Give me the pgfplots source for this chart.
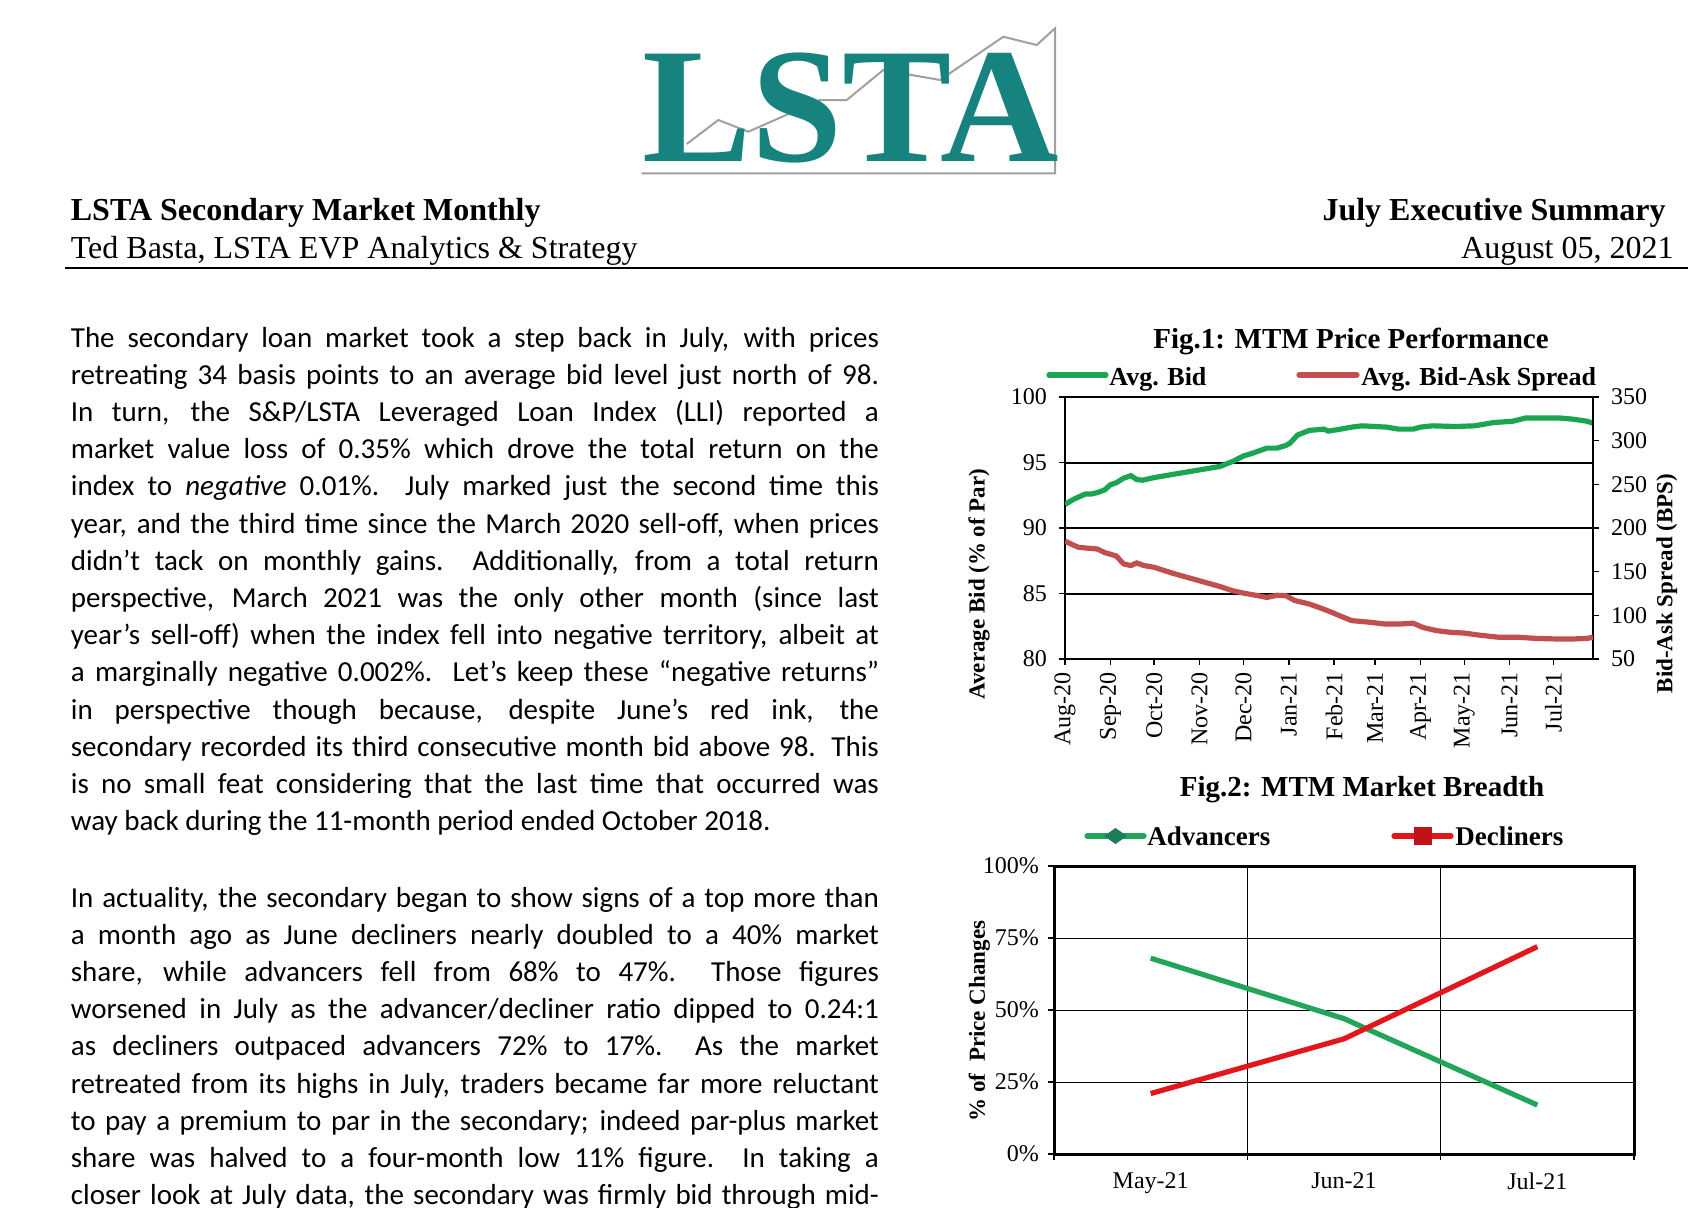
\documentclass[border=0pt]{standalone}
\usepackage{pgfplots}
\pgfplotsset{compat=1.18}
\usepackage{fontspec}
\setmainfont{Liberation Serif}
\newfontfamily\calibri{Carlito}
\definecolor{teal1}{HTML}{17837F}
\definecolor{bidgreen}{HTML}{1BA551}
\definecolor{spreadred}{HTML}{C0504D}
\definecolor{advgreen}{HTML}{22A55A}
\definecolor{decred}{HTML}{E3161B}
\definecolor{logogray}{HTML}{A0A0A0}
\definecolor{diamondgreen}{HTML}{1B7D5A}
\newcommand\jline[2]{\node[anchor=base west,inner sep=0pt] at (70.5,#1) {\calibri\fontsize{14.5}{18}\selectfont\makebox[404pt][s]{#2}};}
\newcommand\lastline[2]{\node[anchor=base west,inner sep=0pt] at (70.5,#1) {\calibri\fontsize{14.5}{18}\selectfont #2};}
\begin{document}
\begin{tikzpicture}
\useasboundingbox (0,0) rectangle (850pt,-603.5pt);
\clip (0,0) rectangle (850pt,-603.5pt);
\begin{scope}[x=0.5pt,y=-0.5pt]
% logo
\draw[logogray, line width=1pt] (686.7,144) -- (718.3,120) -- (748.3,131.7) -- (820,100) -- (846.7,100) -- (883.3,70) -- (940,80) -- (1003.3,36.7) -- (1036.7,45) -- (1055,28.3) -- (1055,173.3) -- (641.7,173.3);
\node[anchor=base west, inner sep=0pt, text=teal1, xscale=1.0] at (642,161) {\bfseries\fontsize{82}{82}\selectfont LSTA};
% header
\node[anchor=base west, inner sep=0pt] at (70.5,220) {\bfseries\fontsize{16}{16}\selectfont LSTA Secondary Market Monthly};
\node[anchor=base west, inner sep=0pt] at (70.5,258) {\fontsize{16}{16}\selectfont Ted Basta, LSTA EVP Analytics \& Strategy};
\node[anchor=base east, inner sep=0pt] at (1666,220) {\bfseries\fontsize{16}{16}\selectfont July Executive Summary};
\node[anchor=base east, inner sep=0pt] at (1674,258) {\fontsize{16}{16}\selectfont August 05, 2021};
\draw[line width=0.6pt] (65,268) -- (1688,268);
% body paragraph 1
\jline{347}{The secondary loan market took a step back in July, with prices}
\jline{384.2}{retreating 34 basis points to an average bid level just north of 98.}
\jline{421.4}{In turn, the S\&P/LSTA Leveraged Loan Index (LLI) reported a}
\jline{458.6}{market value loss of 0.35\% which drove the total return on the}
\jline{495.8}{index to \textit{negative} 0.01\%.\ \ July marked just the second time this}
\jline{533}{year, and the third time since the March 2020 sell-off, when prices}
\jline{570.2}{didn’t tack on monthly gains.\ \ Additionally, from a total return}
\jline{607.4}{perspective, March 2021 was the only other month (since last}
\jline{644.6}{year’s sell-off) when the index fell into negative territory, albeit at}
\jline{681.8}{a marginally negative 0.002\%.\ \ Let’s keep these “negative returns”}
\jline{719}{in perspective though because, despite June’s red ink, the}
\jline{756.2}{secondary recorded its third consecutive month bid above 98. This}
\jline{793.4}{is no small feat considering that the last time that occurred was}
\lastline{830.6}{way back during the 11-month period ended October 2018.}
% body paragraph 2
\jline{907}{In actuality, the secondary began to show signs of a top more than}
\jline{944.2}{a month ago as June decliners nearly doubled to a 40\% market}
\jline{981.4}{share, while advancers fell from 68\% to 47\%.\ \ Those figures}
\jline{1018.6}{worsened in July as the advancer/decliner ratio dipped to 0.24:1}
\jline{1055.8}{as decliners outpaced advancers 72\% to 17\%.\ \ As the market}
\jline{1093}{retreated from its highs in July, traders became far more reluctant}
\jline{1130.2}{to pay a premium to par in the secondary; indeed par-plus market}
\jline{1167.4}{share was halved to a four-month low 11\% figure.\ \ In taking a}
\jline{1204.6}{closer look at July data, the secondary was firmly bid through mid-}
% fig 1 title and legend
\node[anchor=base, inner sep=0pt] at (1351,348) {\bfseries\fontsize{14.5}{14.5}\selectfont Fig.1: MTM Price Performance};
\draw[bidgreen, line width=2.6pt, line cap=round] (1049,375) -- (1106,375);
\node[anchor=base west, inner sep=0pt] at (1109,385) {\bfseries\fontsize{13}{13}\selectfont Avg. Bid};
\draw[spreadred, line width=2.6pt, line cap=round] (1299,375) -- (1357,375);
\node[anchor=base west, inner sep=0pt] at (1361,385) {\bfseries\fontsize{13}{13}\selectfont Avg. Bid-Ask Spread};
% fig 2 title and legend
\node[anchor=base, inner sep=0pt] at (1362,796) {\bfseries\fontsize{14.5}{14.5}\selectfont Fig.2: MTM Market Breadth};
\draw[advgreen, line width=2.6pt, line cap=round] (1087,836) -- (1144,836);
\fill[diamondgreen] (1104,836) -- (1115.5,828) -- (1127,836) -- (1115.5,844) -- cycle;
\node[anchor=base west, inner sep=0pt] at (1147,845) {\bfseries\fontsize{13.5}{13.5}\selectfont Advancers};
\draw[decred, line width=2.6pt, line cap=round] (1394,836) -- (1451,836);
\fill[decred!85!black] (1414,827) rectangle (1432,845);
\node[anchor=base west, inner sep=0pt] at (1455,845) {\bfseries\fontsize{13.5}{13.5}\selectfont Decliners};
\end{scope}
% ---------------- Fig 1 ----------------
\begin{axis}[
  at={(532.5pt,-329.5pt)}, anchor=south west,
  scale only axis, width=264pt, height=131pt,
  xmin=0, xmax=361, ymin=80, ymax=100,
  ytick={80,85,90,95,100},
  ymajorgrids, grid style={black, line width=1pt},
  xtick={0,31,61,92,122,153,184,212,243,273,304,334},
  xticklabels={Aug-20,Sep-20,Oct-20,Nov-20,Dec-20,Jan-21,Feb-21,Mar-21,Apr-21,May-21,Jun-21,Jul-21},
  xticklabel style={rotate=90, anchor=east, font=\fontsize{12}{12}\selectfont},
  tick pos=left, tick align=outside, major tick length=3pt,
  tick style={black, line width=0.8pt},
  axis line style={line width=1pt},
  /pgf/number format/assume math mode=true,
  yticklabel style={font=\fontsize{12}{12}\selectfont, xshift=-2.5pt},
  ylabel={Average Bid (\% of Par)},
  ylabel style={font=\bfseries\fontsize{11.5}{11.5}\selectfont, at={(axis description cs:-0.163,0.286)}, anchor=center},
]
\addplot[bidgreen, line width=2.6pt] table {
0 91.8
3 92.0
6 92.2
10 92.4
14 92.6
18 92.6
22 92.7
27 92.9
31 93.3
35 93.45
40 93.8
45 94.0
49 93.7
53 93.65
61 93.85
74 94.1
90 94.4
106 94.7
115 95.1
122 95.5
128 95.7
138 96.1
145 96.1
151 96.3
154 96.5
159 97.1
167 97.45
177 97.55
180 97.4
186 97.5
196 97.7
203 97.8
212 97.75
220 97.7
228 97.55
238 97.55
243 97.7
251 97.8
267 97.75
280 97.8
293 98.05
306 98.15
315 98.4
325 98.4
338 98.4
348 98.3
357 98.15
361 98.0
};
\end{axis}
\begin{axis}[
  at={(532.5pt,-329.5pt)}, anchor=south west,
  scale only axis, width=264pt, height=131pt,
  xmin=0, xmax=361, ymin=50, ymax=350,
  axis y line*=right, axis x line=none,
  ytick={50,100,150,200,250,300,350},
  tick align=outside, major tick length=3pt,
  tick style={black, line width=0.8pt},
  axis line style={line width=1pt},
  /pgf/number format/assume math mode=true,
  yticklabel style={font=\fontsize{12}{12}\selectfont, xshift=2.5pt},
  ylabel={Bid-Ask Spread (BPS)},
  ylabel style={font=\bfseries\fontsize{11.5}{11.5}\selectfont, at={(axis description cs:1.14,0.288)}, anchor=center},
]
\addplot[spreadred, line width=2.6pt] table {
0 185
5 181
9 178
15 177
22 176
27 172
31 170
35 168
40 159
45 157
49 160
54 157
61 155
74 148
90 140.5
106 133
115 128
122 125.5
132 122.5
138 120.5
145 123
151 122.5
157 117
167 113
177 107
183 103
190 98
196 94
209 92
219 90
228 90
238 91
245 86
254 82.5
264 80.5
273 79.7
283 77.4
296 75
309 75
322 73.6
335 73
348 73
357 73.6
361 75
};
\end{axis}
% ---------------- Fig 2 ----------------
\begin{axis}[
  at={(527pt,-577pt)}, anchor=south west,
  scale only axis, width=290pt, height=144pt,
  xmin=-0.5, xmax=2.5, ymin=0, ymax=100,
  xtick={-0.5,0.5,1.5,2.5}, xticklabels={},
  extra x ticks={0,1,2}, extra x tick labels={May-21,Jun-21,Jul-21},
  extra x tick style={major tick length=0pt, grid=none},
  ytick={0,25,50,75,100}, yticklabels={0\%,25\%,50\%,75\%,100\%},
  xmajorgrids, ymajorgrids, grid style={black, line width=0.5pt},
  tick pos=left, tick align=outside, major tick length=3pt,
  tick style={black, line width=0.6pt},
  axis line style={line width=1.5pt},
  ticklabel style={font=\fontsize{12}{12}\selectfont},
  xticklabel style={yshift=-6pt},
  yticklabel style={xshift=-1pt},
  ylabel={\% of\ \ Price Changes},
  ylabel style={font=\bfseries\fontsize{11.5}{11.5}\selectfont, at={(axis description cs:-0.129,0.462)}, anchor=center},
]
\addplot[advgreen, line width=2.6pt] coordinates {(0,68) (1,47) (2,17)};
\addplot[decred, line width=2.6pt] coordinates {(0,21) (1,40) (2,72)};
\end{axis}
\end{tikzpicture}
\end{document}
